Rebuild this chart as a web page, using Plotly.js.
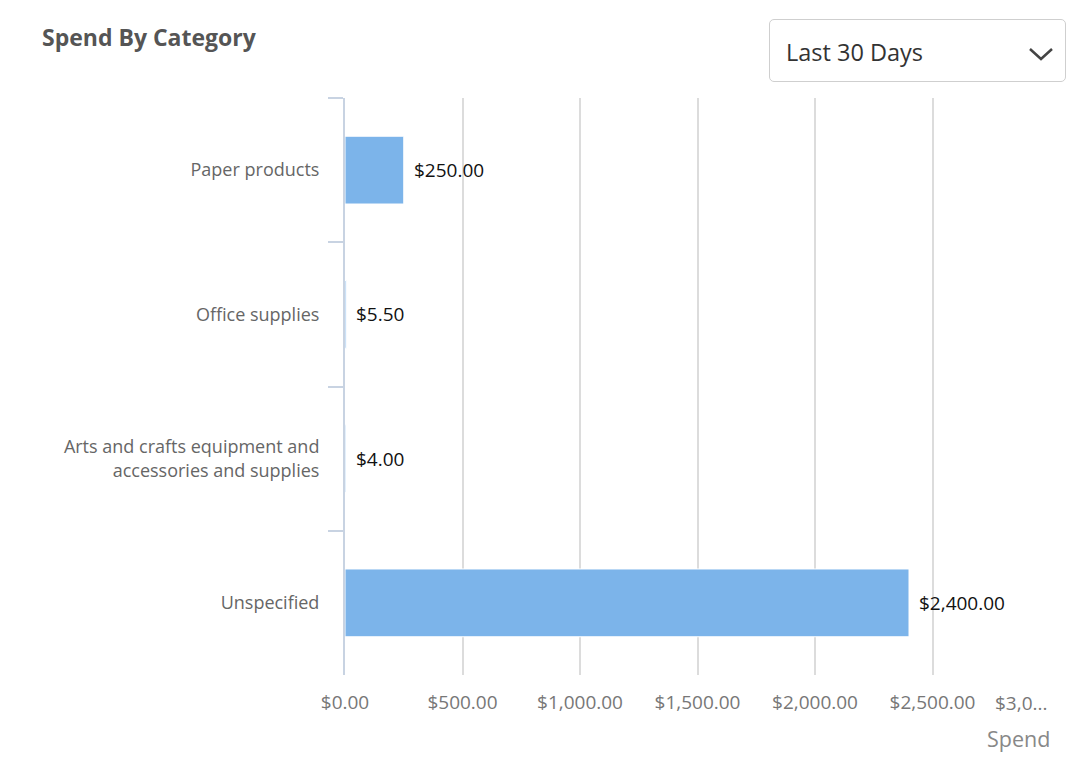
<!DOCTYPE html>
<html>
<head>
<meta charset="utf-8">
<script src="https://cdn.plot.ly/plotly-3.0.1.min.js"></script>
<style>
  html, body { margin: 0; padding: 0; background: #fff; }
  #wrap { position: relative; width: 1079px; height: 783px; }
  #chart { position: absolute; left: 0; top: 0; width: 1079px; height: 783px; }
  #title { position: absolute; left: 42px; top: 21px; font-family: "Open Sans", sans-serif; font-weight: 700; font-size: 23px; color: #555; }
  #dd { position: absolute; left: 769px; top: 19px; width: 297px; height: 63px; border: 1px solid #cfcfcf; border-radius: 5px; box-sizing: border-box; font-family: "Open Sans", sans-serif; font-size: 23.5px; color: #333; }
  #dd span { position: absolute; left: 16px; top: 20px; line-height: 1.1; }
  #dd svg { position: absolute; left: 258px; top: 26px; }
</style>
</head>
<body>
<div id="wrap">
  <div id="chart"></div>
  <div id="title">Spend By Category</div>
  <div id="dd"><span>Last 30 Days</span>
    <svg width="26" height="16" viewBox="0 0 26 16"><polyline points="2,3 13,13 24,3" fill="none" stroke="#444" stroke-width="2.5"/></svg>
  </div>
</div>
<script>
const categories = ["Paper products", "Office supplies", "Arts and crafts equipment and<br>accessories and supplies", "Unspecified"];
const spend = [250.00, 5.50, 4.00, 2400.00];
const spendLabels = ["$250.00", "$5.50", "$4.00", "$2,400.00"];
const tickVals = [0, 500, 1000, 1500, 2000, 2500, 3000];
const tickLabels = ["$0.00", "$500.00", "$1,000.00", "$1,500.00", "$2,000.00", "$2,500.00", ""];
const lastTickLabel = "$3,0...";

const font = "'Open Sans', sans-serif";

const trace = {
  type: "bar",
  orientation: "h",
  y: categories,
  x: spend,
  marker: { color: "#7cb4ea", line: { color: "#ffffff", width: 1 } },
  hoverinfo: "none"
};

const annotations = categories.map((c, i) => ({
  x: spend[i], y: c, xref: "x", yref: "y",
  text: spendLabels[i], showarrow: false,
  xanchor: "left", xshift: 8,
  font: { family: font, size: 19, color: "#111" }
}));
annotations.push({
  x: tickVals[tickVals.length - 1], y: 0, xref: "x", yref: "paper",
  yanchor: "top", xanchor: "right", yshift: -13, xshift: -1,
  text: lastTickLabel, showarrow: false,
  font: { family: font, size: 19, color: "#777" }
});
annotations.push({
  x: 1, y: 0, xref: "paper", yref: "paper", yanchor: "top", xanchor: "right",
  yshift: -47, xshift: 2, text: "Spend", showarrow: false,
  font: { family: font, size: 21.5, color: "#888" }
});

const layout = {
  width: 1079, height: 783,
  margin: { l: 345, r: 29, t: 98, b: 108 },
  paper_bgcolor: "#fff", plot_bgcolor: "#fff",
  bargap: 0.53,
  showlegend: false,
  xaxis: {
    range: [0, 3000], tickvals: tickVals, ticktext: tickLabels,
    showgrid: true, gridcolor: "#dcdcdc", gridwidth: 2,
    zeroline: false, showline: false, ticks: "",
    tickfont: { family: font, size: 19, color: "#777" },
    ticklabelstandoff: 14,
    fixedrange: true
  },
  yaxis: {
    type: "category", autorange: "reversed",
    showline: true, linecolor: "#c8d3e2", linewidth: 2, layer: "above traces",
    ticks: "outside", tickson: "boundaries", ticklen: 15, tickcolor: "#c8d3e2", tickwidth: 2,
    showgrid: false, zeroline: false,
    tickfont: { family: font, size: 18, color: "#666" },
    ticklabelstandoff: 20,
    fixedrange: true
  },
  annotations: annotations
};

Plotly.newPlot("chart", [trace], layout, { displayModeBar: false, staticPlot: true });
</script>
</body>
</html>
